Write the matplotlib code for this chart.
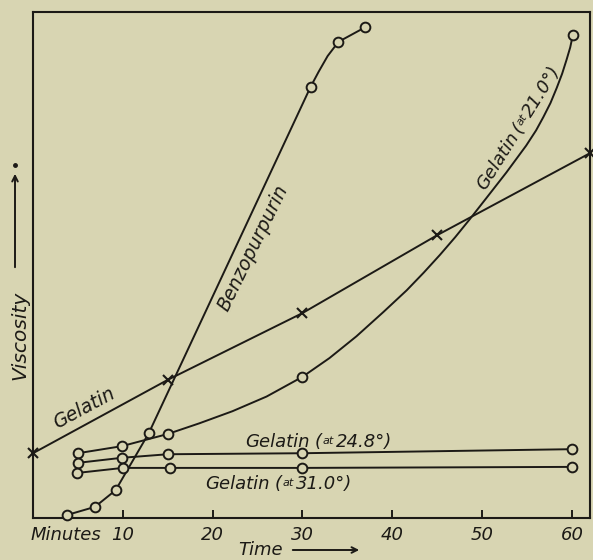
import numpy as np
from matplotlib import pyplot as plt
from matplotlib.transforms import IdentityTransform
from matplotlib.lines import Line2D
from matplotlib.patches import FancyArrowPatch

# Colours of the old printed page
PAPER = "#d8d5b2"
INK = "#1c1a16"

# Gelatin (crosses), straight line
gelatin_time = [0, 15, 30, 45, 62]
gelatin_visc = [12.8, 27.3, 40.5, 55.9, 72.1]

# Benzopurpurin (circles)
benzo_time = [3.8, 6.9, 9.2, 12.9, 30.9, 34.0, 37.0]
benzo_visc = [0.6, 2.2, 5.5, 16.8, 85.2, 94.1, 97.0]
# points
benzo_trace_time = [3.8, 6.9, 9.2, 12.9, 30.9, 31.8, 32.8, 34.0, 37.0]
benzo_trace_visc = [0.6, 2.2, 5.5, 16.8, 85.2, 88.2, 91.3, 94.1, 97.0]

# Gelatin at 21.0 deg (circles)
gel21_time = [5.0, 9.9, 15.0, 30.0, 60.1]
gel21_visc = [12.8, 14.2, 16.6, 27.9, 95.5]
# points
gel21_trace_time = [5.0, 9.9, 15.0, 18.5, 22.2, 26.0, 30.0, 33.0, 36.0, 39.0, 41.6, 43.5,
					45.3, 47.0, 48.6, 50.5, 52.7, 54.9, 56.0, 56.8, 57.6, 58.3, 58.9,
					59.4, 59.8, 60.1]
gel21_trace_visc = [12.8, 14.2, 16.6, 18.7, 21.1, 24.0, 27.9, 31.6, 35.9, 40.7, 45.0, 48.5,
					52.0, 55.5, 59.0, 63.3, 68.3, 73.6, 76.6, 79.2, 82.0, 85.0, 87.8,
					90.6, 93.0, 95.5]

# Gelatin at 24.8 deg and 31.0 deg (circles)
gel248_time = [5.0, 9.9, 15.0, 30.0, 60.0]
gel248_visc = [10.9, 11.9, 12.6, 12.8, 13.6]
gel31_time = [4.9, 10.0, 15.3, 30.0, 60.0]
gel31_visc = [8.9, 9.9, 9.9, 9.9, 10.1]

tick_minutes = [10, 20, 30, 40, 50, 60]


def main():
	fig = plt.figure(figsize=(5.93, 5.60), dpi=100, facecolor=PAPER)
	ax = fig.add_axes([0.0556, 0.075, 0.9393, 0.9036], facecolor=PAPER)
	ax.set_xlim(0, 62)
	ax.set_ylim(0, 100)

	draw_curves(ax)
	style_axes(ax)
	draw_labels(fig, ax)

	fig.savefig("out.png", dpi=100, facecolor=PAPER)


def draw_curves(ax):
	lw = 1.4
	line = dict(color=INK, lw=lw, zorder=3, solid_joinstyle="round")
	circ = dict(marker="o", markersize=7, markerfacecolor=PAPER, markeredgecolor=INK,
				markeredgewidth=1.4, linestyle="none", clip_on=False, zorder=4)

	# Gelatin, straight line with crosses
	ax.plot(gelatin_time, gelatin_visc, marker="x", markersize=7,
			markeredgewidth=1.5, clip_on=False, **line)

	ax.plot(benzo_trace_time, benzo_trace_visc, **line)
	ax.plot(benzo_time, benzo_visc, **circ)

	ax.plot(gel21_trace_time, gel21_trace_visc, **line)
	ax.plot(gel21_time, gel21_visc, **circ)

	ax.plot(gel248_time, gel248_visc, **line)
	ax.plot(gel248_time, gel248_visc, **circ)

	ax.plot(gel31_time, gel31_visc, **line)
	ax.plot(gel31_time, gel31_visc, **circ)


def style_axes(ax):
	for s in ax.spines.values():
		s.set_linewidth(1.5)
		s.set_color(INK)
	ax.set_yticks([])
	ax.set_xticks(tick_minutes)
	ax.set_xticklabels([str(t) for t in tick_minutes], fontsize=13, style="italic", color=INK)
	ax.tick_params(axis="x", direction="in", length=6, width=1.4, pad=5.5, color=INK)


# draw_run()
# Writes a label made of several pieces of different sizes along a
# (possibly rotated) baseline, starting at a data point.
def draw_run(ax, x, y, pieces, angle=0.0):
	fig = ax.figure
	renderer = fig.canvas.get_renderer()
	px, py = ax.transData.transform((x, y))
	rad = np.deg2rad(angle)
	ux, uy = np.cos(rad), np.sin(rad)
	nx, ny = -uy, ux
	for s, size, rise, gap in pieces:
		t = fig.text(px + nx * rise, py + ny * rise, s, transform=IdentityTransform(),
					 fontsize=size, style="italic", color=INK, rotation=0,
					 rotation_mode="anchor", ha="left", va="baseline")
		w = t.get_window_extent(renderer).width + gap
		t.set_rotation(angle)
		px += ux * w
		py += uy * w


def draw_labels(fig, ax):
	ax.text(24.5, 53.4, "Benzopurpurin", fontsize=13.5, style="italic", color=INK,
			rotation=64, rotation_mode="anchor", ha="center", va="center")

	draw_run(ax, 2.7, 17.6, [("Gelatin", 13.5, 0, 0)], angle=28.4)

	draw_run(ax, 50.3, 64.6, [("Gelatin", 13, 0, 3), ("(", 13, 0, 0),
							  ("at", 8, 3, 1), ("21.0°)", 13, 0, 0)], angle=58)

	draw_run(ax, 23.6, 14.0, [("Gelatin", 13, 0, 5), ("(", 13, 0, 1),
							  ("at", 8, 3, 2), ("24.8°)", 13, 0, 0)])

	draw_run(ax, 19.2, 5.7, [("Gelatin", 13, 0, 5), ("(", 13, 0, 1),
							 ("at", 8, 3, 2), ("31.0°)", 13, 0, 0)])

	# "Minutes" sits in line with the tick labels
	ax.annotate("Minutes", xy=(0, 0), xycoords="axes fraction", xytext=(-1.5, -5.5),
				textcoords="offset points", ha="left", va="top", fontsize=13,
				style="italic", color=INK)

	# x label with arrow
	fig.text(238 / 593, 5 / 560, "Time", fontsize=13, style="italic", color=INK,
			 ha="left", va="baseline")
	fig.add_artist(FancyArrowPatch(
		(290 / 593, 10 / 560), (362 / 593, 10 / 560), transform=fig.transFigure,
		arrowstyle="->", mutation_scale=10, lw=1.4, color=INK))

	# y label with arrow
	fig.text(25 / 593, 180 / 560, "Viscosity", fontsize=14.5, style="italic", color=INK,
			 rotation=90, rotation_mode="anchor", ha="left", va="baseline")
	fig.add_artist(FancyArrowPatch(
		(15 / 593, 290 / 560), (15 / 593, 389 / 560), transform=fig.transFigure,
		arrowstyle="->", mutation_scale=10, lw=1.4, color=INK))
	fig.add_artist(Line2D([15 / 593], [395 / 560], transform=fig.transFigure,
						  marker="o", markersize=2.5, color=INK, linestyle="none"))


if __name__ == "__main__":
	main()
